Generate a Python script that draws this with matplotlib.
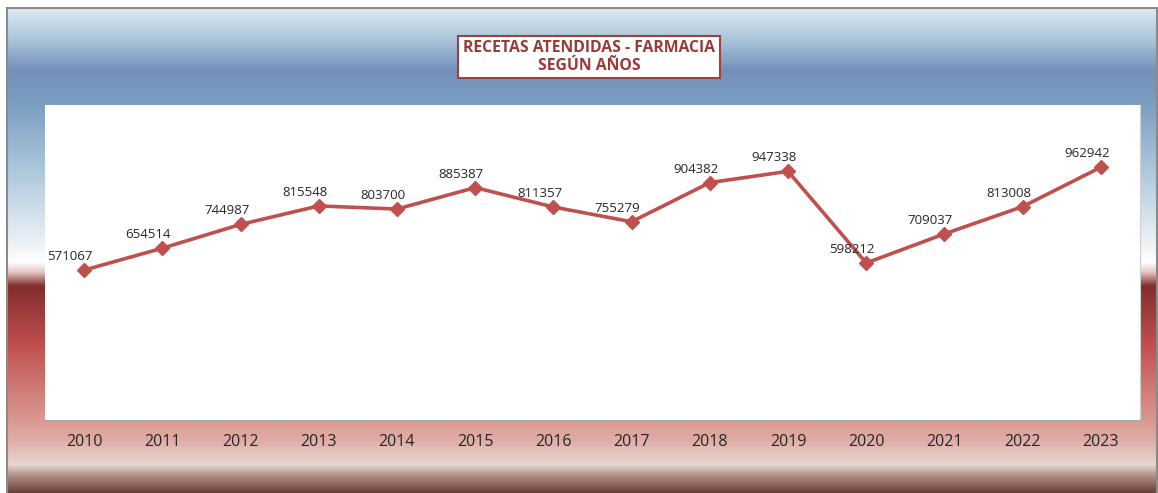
import numpy as np
import matplotlib.pyplot as plt
from matplotlib.colors import to_rgb
from matplotlib.patches import Rectangle

# data
years = ["2010", "2011", "2012", "2013", "2014", "2015", "2016",
         "2017", "2018", "2019", "2020", "2021", "2022", "2023"]
recetas = [571067, 654514, 744987, 815548, 803700, 885387, 811357,
           755279, 904382, 947338, 598212, 709037, 813008, 962942]
titulo = "RECETAS ATENDIDAS - FARMACIA\nSEGÚN AÑOS"

W, H, dpi = 1158, 493, 100
fig = plt.figure(figsize=(W / dpi, H / dpi), dpi=dpi)
fig.patch.set_facecolor("white")

# background gradient (pixel rows, top -> bottom)
stops = [(9, "#dce9f2"), (40, "#a9c4d9"), (70, "#7590b8"), (100, "#789dc1"),
         (150, "#9dbbd4"), (200, "#c6d9e7"), (245, "#eef3f7"), (262, "#ffffff"),
         (272, "#e6c8c4"), (286, "#822d2d"), (345, "#c0504d"), (400, "#d4857f"),
         (440, "#dfaca5"), (465, "#e8d8d0"), (476, "#b09088"), (493, "#6b3d37")]
rows = np.arange(9, 494)
ys = [s[0] for s in stops]
cols = np.array([to_rgb(s[1]) for s in stops])
grad = np.stack([np.interp(rows, ys, cols[:, i]) for i in range(3)], axis=-1)
grad = grad[:, None, :]

bg = fig.add_axes([0, 0, 1, 1])
bg.set_xlim(0, W)
bg.set_ylim(H, 0)
bg.axis("off")
bg.imshow(grad, extent=(8, 1157, 493, 9), aspect="auto")
bg.add_patch(Rectangle((7, 8), 1150, 486, fill=False, edgecolor="#8a8a8a", lw=1.5))

# title box
bg.text(589, 57, titulo, ha="center", va="center", fontsize=11.3, fontweight="bold",
        color="#9b3a38", family="Open Sans", linespacing=1.1,
        bbox=dict(boxstyle="square,pad=0.3", facecolor="white",
                  edgecolor="#a0403c", lw=1.5))

# plot area
ax = fig.add_axes([45 / W, (H - 420) / H, 1095 / W, 315 / H])
ax.set_facecolor("white")
x = np.arange(len(years))
ax.plot(x, recetas, color="#c0504d", lw=2.6, marker="D", markersize=7,
        markeredgecolor="#c0504d")
ax.set_xlim(-0.5, len(years) - 0.5)
ax.set_ylim(0, 1200000)
ax.set_yticks([])
ax.set_xticks(x)
ax.set_xticklabels(years, fontsize=11.5, color="#262626", family="Open Sans")
ax.tick_params(axis="x", length=0, pad=10)
for s in ["top", "left"]:
    ax.spines[s].set_visible(False)
ax.spines["bottom"].set_color("#a6a6a6")
ax.spines["right"].set_color("#d0d0d0")

for xi, v in zip(x, recetas):
    ax.annotate(str(v), (xi, v), xytext=(-10, 5), textcoords="offset points",
                ha="center", va="bottom", fontsize=9.5, color="#262626",
                family="Open Sans")

fig.savefig("out.png", dpi=dpi)
